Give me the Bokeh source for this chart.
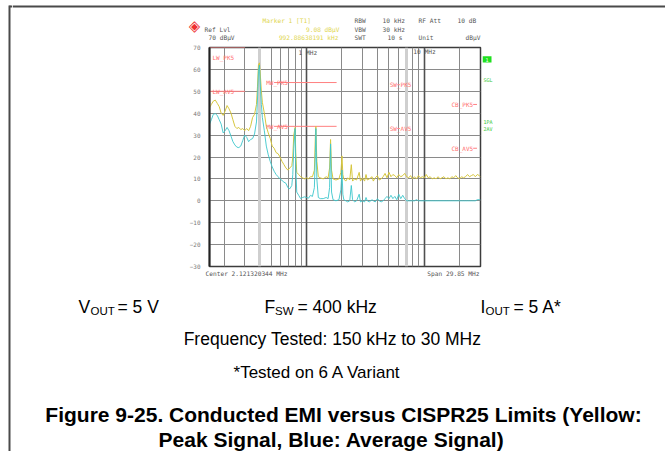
import math
from bokeh.plotting import figure
from bokeh.layouts import column, row
from bokeh.models import Label, FixedTicker, Range1d, Grid
from bokeh.embed import file_html
from bokeh.resources import INLINE

# ---------------- data ----------------
freq_mhz = [0.150, 0.1555, 0.1616, 0.168, 0.1746, 0.1814, 0.1885, 0.1959, 0.2036, 0.2115,
            0.2198, 0.2285, 0.2371, 0.2464, 0.256, 0.2661, 0.2765, 0.2873, 0.2985, 0.3102,
            0.3224, 0.335, 0.3481, 0.3617, 0.3758, 0.3831, 0.3906, 0.398, 0.4058, 0.4137,
            0.4217, 0.4382, 0.4554, 0.4732, 0.4917, 0.5109, 0.5309, 0.5517, 0.5733, 0.5957,
            0.619, 0.6432, 0.6683, 0.6945, 0.7217, 0.7499, 0.7643, 0.7792, 0.80, 0.81,
            0.8254, 0.8577, 0.8913, 0.9261, 0.9624, 1.0, 1.039, 1.080, 1.122, 1.166,
            1.189, 1.20, 1.223, 1.259, 1.308, 1.386, 1.468, 1.525, 1.570, 1.60,
            1.631, 1.679, 1.778, 1.884, 1.957, 2.0, 2.034, 2.073, 2.154, 2.239,
            2.327, 2.40, 2.46, 2.56, 2.66, 2.80, 2.87, 2.99, 3.11, 3.20,
            3.28, 3.41, 3.60, 3.69, 3.83, 4.0, 4.14, 4.30, 4.47, 4.64,
            4.82, 5.01, 5.21, 5.41, 5.62, 5.84, 6.07, 6.31, 6.56, 6.81,
            7.08, 7.36, 7.65, 7.94, 8.25, 8.58, 8.91, 9.26, 9.62, 10.0,
            10.39, 10.8, 11.22, 11.66, 12.12, 12.59, 13.09, 13.6, 14.13, 14.68,
            15.26, 15.85, 16.47, 17.12, 17.78, 18.48, 19.2, 19.95, 20.7, 21.5,
            22.4, 23.3, 24.2, 25.1, 26.1, 27.1, 28.2, 29.3, 30.0]

peak_dbuv = [42.5, 44, 45.5, 46, 44.5, 43, 40, 39, 41, 43.5,
             42, 40, 37, 34, 33, 33.5, 32.5, 33, 32, 33,
             32, 34, 38, 39.5, 44, 52, 62, 63, 57, 50,
             45, 40, 34, 31, 28.5, 25, 24, 22, 21.5, 20,
             18, 16.5, 15, 14, 15, 16, 20, 30, 33.5, 22,
             13, 12, 11, 10.5, 10, 10.5, 10, 11, 11, 14,
             30, 34, 18, 11, 10.5, 10, 11, 10.5, 15, 28,
             14, 10, 9.5, 10, 13, 20.5, 12, 10, 9, 10.5,
             9.5, 16.5, 9, 10, 9.5, 13, 9, 10.5, 9, 12,
             9.5, 10, 11, 9, 10.5, 11.5, 9.5, 10, 11, 12.5,
             10.5, 13, 11, 12, 11.5, 10.5, 12, 11, 11.5, 12.5,
             11, 10.5, 11.5, 10, 11, 10, 11.5, 10.5, 11, 10.5,
             12, 10.5, 11, 10, 10.5, 10, 11, 10, 10.5, 11,
             10, 10.5, 10, 11, 10.5, 11.5, 10.5, 10, 11, 10.5,
             11, 12, 11, 11.5, 12, 11, 12, 11.5, 11]

avg_dbuv = [35, 37, 39.5, 39.8, 39, 37, 35, 31, 32, 33.5,
            32, 29.5, 27, 25.5, 24.5, 24.3, 25, 27.5, 30, 29,
            27, 28, 28.4, 30.5, 36, 46, 59, 62, 52, 44,
            38, 32, 25, 21, 18, 15.5, 13.5, 12, 11, 10,
            9.3, 8.5, 8, 6, 5.5, 7, 12, 24, 33, 16,
            4, 2.5, 1, 1.5, 1.8, 1.5, 1.2, 2.5, 2, 6,
            22, 33, 10, 1.5, 1, 1, 1.5, 1, 6, 26,
            4, 0.5, 0, 0.5, 5, 14, 3, 0.5, 0, -0.5,
            0, 7, 0.5, -0.5, 0, 3, -0.5, 0, -0.5, 1.5,
            0, -0.5, 0.5, 0, -0.5, 1, 0, -0.5, 0, 1,
            2, 1, 2.5, 1, 2, 0.5, 3, 1, 2.5, 1,
            0, 0, 0, 0, 0, 0.5, 0, 0, 0, 0,
            0, 0, 0, 0, 0, 0, 0, 0, 0, 0,
            0, 0, 0, 0, 0, 0, 0, 0, 0, 0,
            0, 0, 0, 0, 0, 0, 0.5, 0.5, 0.5]

# CISPR 25 class 5 limit lines
limit_names = ["LW_PK5", "LW_AV5", "MW_PK5", "MW_AV5", "SW_PK5", "SW_AV5", "CB_PK5", "CB_AV5"]
limit_f_start = [0.15, 0.15, 0.53, 0.53, 5.9, 5.9, 26.0, 26.0]
limit_f_end = [0.30, 0.30, 1.8, 1.8, 6.2, 6.2, 28.0, 28.0]
limit_dbuv = [70, 50, 54, 34, 53, 33, 44, 24]

y_ticks = [70, 60, 50, 40, 30, 20, 10, 0, -10, -20, -30]
grid_minor_mhz = [0.2, 0.3, 0.5, 0.6, 0.7, 0.8, 0.9, 2, 3, 4, 5, 6, 8, 9, 20]
grid_decade_mhz = [1, 10]
grid_marked_mhz = [0.4, 7]

# ---------------- layout geometry (window pixels) ----------------
WIN_W, WIN_H = 665, 451
BAR_W = 12
FRAME_L, FRAME_T, FRAME_W, FRAME_H = 204, 47, 276, 219
AX_W, PAD_T, PAD_B, PAD_R = 18, 4, 3, 2
SPEC_W = AX_W + FRAME_W + PAD_R
SPEC_H = PAD_T + FRAME_H + PAD_B
TOP_H = FRAME_T - PAD_T
MAIN_W = WIN_W - BAR_W
LEFT_W = FRAME_L - AX_W - BAR_W
RIGHT_W = MAIN_W - LEFT_W - SPEC_W
BOT_H = WIN_H - TOP_H - SPEC_H
BOT_Y0 = TOP_H + SPEC_H
RIGHT_X0 = BAR_W + LEFT_W + SPEC_W

DOC_LINE = "#4a4a4a"
gray = "#555555"
yel = "#e0d650"
grn = "#36c936"
mono = "DejaVu Sans Mono"
sans = "Liberation Sans"


def text_fig(w, h):
    f = figure(width=w, height=h, x_range=Range1d(0, w), y_range=Range1d(h, 0),
               output_backend="svg", toolbar_location=None, min_border=0,
               x_axis_location=None, y_axis_location=None)
    f.outline_line_color = None
    f.background_fill_color = "white"
    f.border_fill_color = "white"
    f.xgrid.visible = False
    f.ygrid.visible = False
    return f


def rect(f, l, t, r, b, color):
    f.quad(left=[l], right=[r], top=[t], bottom=[b], fill_color=color, line_color=None)


def txt(f, x0, y0, x, y, s, size, color, font=mono, align="left",
        baseline="middle", style="normal"):
    f.add_layout(Label(x=x - x0, y=y - y0, text=s, text_font=font,
                       text_font_size=f"{size}px", text_color=color,
                       text_align=align, text_baseline=baseline, text_font_style=style))


# ---------------- spectrum figure ----------------
p = figure(width=SPEC_W, height=SPEC_H, x_axis_type="log",
           x_range=Range1d(0.15, 30), y_range=Range1d(-30, 70),
           output_backend="svg", toolbar_location=None,
           min_border_left=AX_W, min_border_right=PAD_R,
           min_border_top=PAD_T, min_border_bottom=PAD_B)
p.background_fill_color = "white"
p.border_fill_color = "white"
p.outline_line_color = "#3c3c3c"
p.outline_line_width = 1.5

p.xaxis.visible = False
p.yaxis.ticker = FixedTicker(ticks=y_ticks)
p.yaxis.major_tick_line_color = None
p.yaxis.minor_tick_line_color = None
p.yaxis.axis_line_color = "#222222"
p.yaxis.axis_line_width = 2
p.yaxis.major_label_text_font = mono
p.yaxis.major_label_text_font_size = "6px"
p.yaxis.major_label_text_color = "#7a7a7a"
p.yaxis.major_label_standoff = 3

p.ygrid.ticker = FixedTicker(ticks=y_ticks)
p.ygrid.grid_line_color = "#8a8a8a"
p.xgrid.ticker = FixedTicker(ticks=grid_minor_mhz)
p.xgrid.grid_line_color = "#8a8a8a"
p.add_layout(Grid(dimension=0, ticker=FixedTicker(ticks=grid_marked_mhz),
                  grid_line_color="#cfcfcf", grid_line_width=3))
p.add_layout(Grid(dimension=0, ticker=FixedTicker(ticks=grid_decade_mhz),
                  grid_line_color="#505050", grid_line_width=1.6))

# limit lines and their names
p.segment(x0=limit_f_start, y0=limit_dbuv, x1=limit_f_end, y1=limit_dbuv,
          line_color="#ff8080", line_width=1)
for name, f0, f1, lev in zip(limit_names, limit_f_start, limit_f_end, limit_dbuv):
    band = name[:2]
    ly = min(lev, 65.5)
    if band == "LW":
        lx, al, off = f0, "left", 3
    elif band == "MW":
        lx, al, off = f0, "center", 3
    elif band == "SW":
        lx, al, off = math.sqrt(f0 * f1), "center", 2
    else:
        lx, al, off = f0, "right", 0
    p.add_layout(Label(x=lx, y=ly, x_offset=off, text=name, text_font=mono,
                       text_font_size="6px", text_color="#ff6f6f", text_align=al,
                       text_baseline="middle"))

# decade captions inside the grid
p.add_layout(Label(x=1.0, y=70, x_offset=-8, y_offset=-5, text="1 MHz", text_font=mono,
                   text_font_size="6.2px", text_color=gray, text_baseline="middle"))
p.add_layout(Label(x=10.0, y=70, x_offset=-11, y_offset=-4, text="10 MHz", text_font=mono,
                   text_font_size="6.2px", text_color=gray, text_baseline="middle"))

# traces
p.line(freq_mhz, peak_dbuv, line_color="#d6c63e", line_width=1)
p.line(freq_mhz, avg_dbuv, line_color="#3cc6cc", line_width=1, line_alpha=0.9)

# ---------------- document frame bar (full height, far left) ----------------
bar = text_fig(BAR_W, WIN_H)
rect(bar, 8, 5, 10, WIN_H, DOC_LINE)
rect(bar, 9, 5, BAR_W, 7, DOC_LINE)

# ---------------- top strip ----------------
X0 = BAR_W
top = text_fig(MAIN_W, TOP_H)
rect(top, 0, 5, MAIN_W, 7, DOC_LINE)
hs = 6.2
txt(top, X0, 0, 194, 25, "\u25c8", 15, "#ee3030", font="DejaVu Sans", align="center")
txt(top, X0, 0, 204, 29, "Ref Lvl", hs, gray)
txt(top, X0, 0, 208, 37, "70 dB\u00b5V", hs, gray)
txt(top, X0, 0, 262, 20, "Marker 1 [T1]", hs, yel)
txt(top, X0, 0, 339, 29, "9.08 dB\u00b5V", hs, yel, align="right")
txt(top, X0, 0, 338, 37, "992.88638191 kHz", hs, yel, align="right")
txt(top, X0, 0, 354, 20, "RBW", hs, gray)
txt(top, X0, 0, 354, 29, "VBW", hs, gray)
txt(top, X0, 0, 354, 37, "SWT", hs, gray)
txt(top, X0, 0, 382, 20, "10 kHz", hs, gray)
txt(top, X0, 0, 382, 29, "30 kHz", hs, gray)
txt(top, X0, 0, 387, 37, "10 s", hs, gray)
txt(top, X0, 0, 418, 20, "RF Att", hs, gray)
txt(top, X0, 0, 418, 37, "Unit", hs, gray)
txt(top, X0, 0, 457, 20, "10 dB", hs, gray)
txt(top, X0, 0, 465, 37, "dB\u00b5V", hs, gray)

# ---------------- left (empty) and right strips ----------------
left = text_fig(LEFT_W, SPEC_H)
right = text_fig(RIGHT_W, SPEC_H)
RX, RY = RIGHT_X0, TOP_H
rect(right, 482 - RX, 52 - RY, 491 - RX, 58.5 - RY, "#1fe01f")
txt(right, RX, RY, 486.5, 55.5, "1", 5, "white", align="center")
txt(right, RX, RY, 483, 77, "SGL", 5, grn)
txt(right, RX, RY, 483, 120, "1PA", 5, grn)
txt(right, RX, RY, 483, 127, "2AV", 5, grn)

# ---------------- bottom strip ----------------
bot = text_fig(MAIN_W, BOT_H)
Y0 = BOT_Y0
txt(bot, X0, Y0, 205, 273, "Center 2.121320344 MHz", hs, gray)
txt(bot, X0, Y0, 479, 273, "Span 29.85 MHz", hs, gray, align="right")

fs, fsub = 17.5, 11.5
B1 = 306
kw = dict(font=sans, baseline="alphabetic")
txt(bot, X0, Y0, 78, B1, "V", fs, "black", **kw)
txt(bot, X0, Y0, 90, B1 + 4, "OUT", fsub, "black", **kw)
txt(bot, X0, Y0, 117, B1, "= 5 V", fs, "black", **kw)
txt(bot, X0, Y0, 264, B1, "F", fs, "black", **kw)
txt(bot, X0, Y0, 274.5, B1 + 4, "SW", fsub, "black", **kw)
txt(bot, X0, Y0, 297, B1, "= 400 kHz", fs, "black", **kw)
txt(bot, X0, Y0, 480, B1, "I", fs, "black", **kw)
txt(bot, X0, Y0, 485, B1 + 4, "OUT", fsub, "black", **kw)
txt(bot, X0, Y0, 513, B1, "= 5 A*", fs, "black", **kw)
txt(bot, X0, Y0, 332, 338, "Frequency Tested: 150 kHz to 30 MHz", fs, "black", font=sans,
    align="center", baseline="alphabetic")
txt(bot, X0, Y0, 317, 372, "*Tested on 6 A Variant", 17, "black", font=sans,
    align="center", baseline="alphabetic")
txt(bot, X0, Y0, 343, 414, "Figure 9-25. Conducted EMI versus CISPR25 Limits (Yellow:", 21,
    "black", font=sans, align="center", baseline="alphabetic", style="bold")
txt(bot, X0, Y0, 331, 439, "Peak Signal, Blue: Average Signal)", 21, "black",
    font=sans, align="center", baseline="alphabetic", style="bold")

layout = row(bar, column(top, row(left, p, right), bot))
open("out.html", "w").write(file_html(layout, INLINE))
